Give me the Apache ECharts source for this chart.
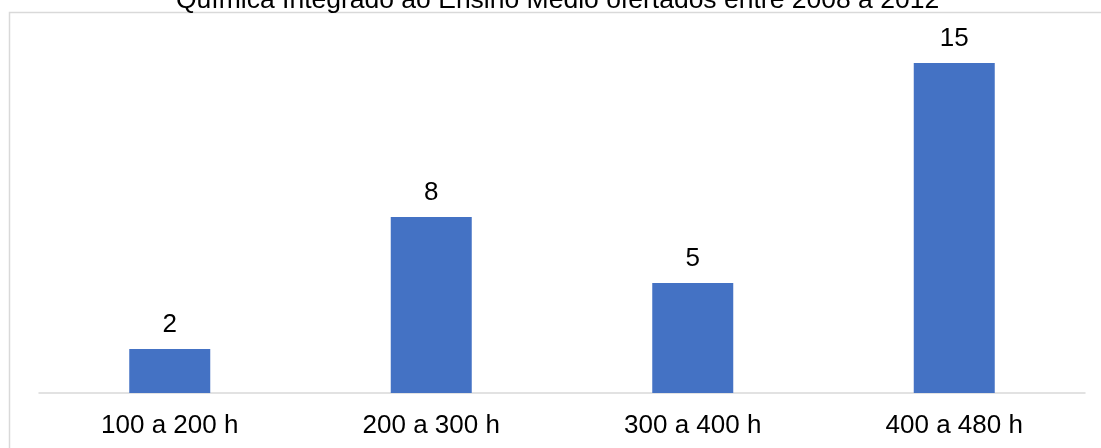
<!DOCTYPE html>
<html>
<head>
<meta charset="utf-8">
<script src="https://cdn.jsdelivr.net/npm/echarts@6/dist/echarts.min.js"></script>
<style>html,body{margin:0;padding:0;background:#fff}#c{width:1101px;height:448px}</style>
</head>
<body>
<div id="c"></div>
<script>
const titleText = 'Química Integrado ao Ensino Médio ofertados entre 2008 a 2012';
const categories = ['100 a 200 h', '200 a 300 h', '300 a 400 h', '400 a 480 h'];
const values = [2, 8, 5, 15];

const chart = echarts.init(document.getElementById('c'), null, {renderer: 'canvas'});
chart.setOption({
  animation: false,
  backgroundColor: '#fff',
  graphic: [{
    type: 'rect', z: -1,
    shape: {x: 9.5, y: 12.5, width: 1200, height: 600},
    style: {fill: '#fff', stroke: '#d9d9d9', lineWidth: 1.5}
  }],
  title: {
    text: titleText, left: 176, top: -13, padding: 0,
    textStyle: {fontFamily: 'Liberation Sans, Arial, sans-serif', fontSize: 26.5, fontWeight: 'normal', color: '#000'}
  },
  grid: {left: 39, right: 16, top: 41, bottom: 55},
  xAxis: {
    type: 'category', data: categories,
    axisLine: {lineStyle: {color: '#d9d9d9', width: 1.5}},
    axisTick: {show: false},
    axisLabel: {margin: 20, color: '#000', fontSize: 26, fontFamily: 'Liberation Sans, Arial, sans-serif'}
  },
  yAxis: {type: 'value', min: 0, max: 16, show: false, splitLine: {show: false}},
  series: [{
    type: 'bar', data: values, barWidth: 81,
    itemStyle: {color: '#4472c4'},
    label: {show: true, position: 'top', distance: 11, color: '#000', fontSize: 26, fontFamily: 'Liberation Sans, Arial, sans-serif'}
  }]
});
</script>
</body>
</html>
